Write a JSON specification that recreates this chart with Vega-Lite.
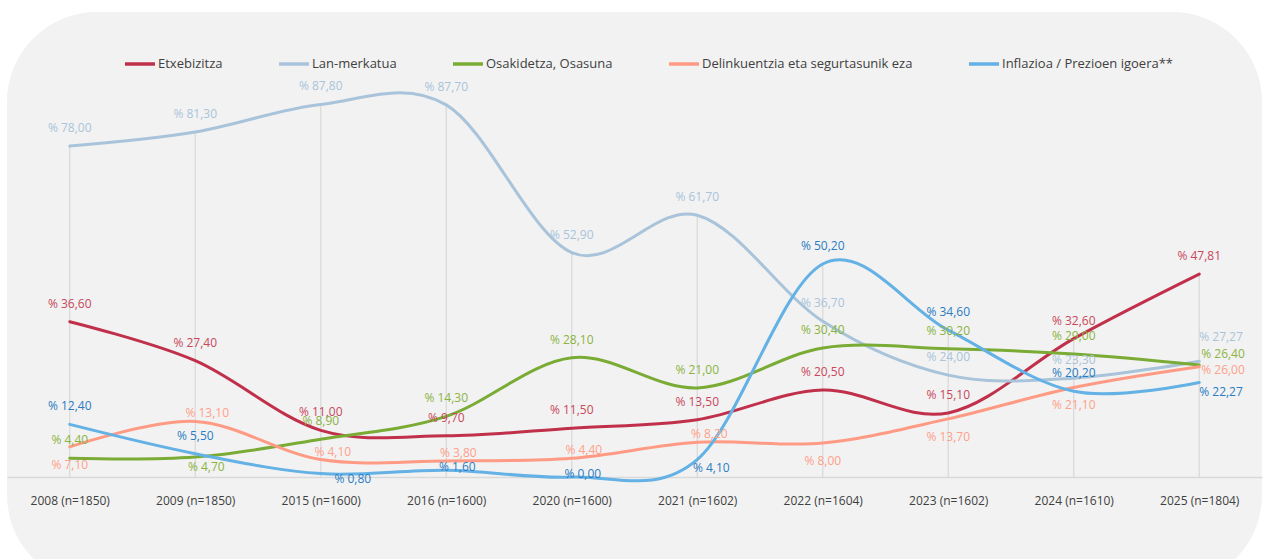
{
  "$schema": "https://vega.github.io/schema/vega-lite/v6.json",
  "width": 1255,
  "height": 573,
  "padding": {"left": 7, "top": 12, "right": 4, "bottom": 0},
  "autosize": {"type": "pad"},
  "background": "white",
  "config": {
    "view": {"fill": "#f2f2f2", "stroke": null, "cornerRadius": 90},
    "font": "Open Sans",
    "text": {"fontSize": 12, "font": "Open Sans", "baseline": "middle", "align": "center"}
  },
  "data": {
    "values": [
      {"year": "2008 (n=1850)", "serie": "Etxebizitza", "value": 36.60},
      {"year": "2009 (n=1850)", "serie": "Etxebizitza", "value": 27.40},
      {"year": "2015 (n=1600)", "serie": "Etxebizitza", "value": 11.00},
      {"year": "2016 (n=1600)", "serie": "Etxebizitza", "value": 9.70},
      {"year": "2020 (n=1600)", "serie": "Etxebizitza", "value": 11.50},
      {"year": "2021 (n=1602)", "serie": "Etxebizitza", "value": 13.50},
      {"year": "2022 (n=1604)", "serie": "Etxebizitza", "value": 20.50},
      {"year": "2023 (n=1602)", "serie": "Etxebizitza", "value": 15.10},
      {"year": "2024 (n=1610)", "serie": "Etxebizitza", "value": 32.60},
      {"year": "2025 (n=1804)", "serie": "Etxebizitza", "value": 47.81},
      {"year": "2008 (n=1850)", "serie": "Lan-merkatua", "value": 78.00},
      {"year": "2009 (n=1850)", "serie": "Lan-merkatua", "value": 81.30},
      {"year": "2015 (n=1600)", "serie": "Lan-merkatua", "value": 87.80},
      {"year": "2016 (n=1600)", "serie": "Lan-merkatua", "value": 87.70},
      {"year": "2020 (n=1600)", "serie": "Lan-merkatua", "value": 52.90},
      {"year": "2021 (n=1602)", "serie": "Lan-merkatua", "value": 61.70},
      {"year": "2022 (n=1604)", "serie": "Lan-merkatua", "value": 36.70},
      {"year": "2023 (n=1602)", "serie": "Lan-merkatua", "value": 24.00},
      {"year": "2024 (n=1610)", "serie": "Lan-merkatua", "value": 23.30},
      {"year": "2025 (n=1804)", "serie": "Lan-merkatua", "value": 27.27},
      {"year": "2008 (n=1850)", "serie": "Osakidetza, Osasuna", "value": 4.40},
      {"year": "2009 (n=1850)", "serie": "Osakidetza, Osasuna", "value": 4.70},
      {"year": "2015 (n=1600)", "serie": "Osakidetza, Osasuna", "value": 8.90},
      {"year": "2016 (n=1600)", "serie": "Osakidetza, Osasuna", "value": 14.30},
      {"year": "2020 (n=1600)", "serie": "Osakidetza, Osasuna", "value": 28.10},
      {"year": "2021 (n=1602)", "serie": "Osakidetza, Osasuna", "value": 21.00},
      {"year": "2022 (n=1604)", "serie": "Osakidetza, Osasuna", "value": 30.40},
      {"year": "2023 (n=1602)", "serie": "Osakidetza, Osasuna", "value": 30.20},
      {"year": "2024 (n=1610)", "serie": "Osakidetza, Osasuna", "value": 29.00},
      {"year": "2025 (n=1804)", "serie": "Osakidetza, Osasuna", "value": 26.40},
      {"year": "2008 (n=1850)", "serie": "Delinkuentzia eta segurtasunik eza", "value": 7.10},
      {"year": "2009 (n=1850)", "serie": "Delinkuentzia eta segurtasunik eza", "value": 13.10},
      {"year": "2015 (n=1600)", "serie": "Delinkuentzia eta segurtasunik eza", "value": 4.10},
      {"year": "2016 (n=1600)", "serie": "Delinkuentzia eta segurtasunik eza", "value": 3.80},
      {"year": "2020 (n=1600)", "serie": "Delinkuentzia eta segurtasunik eza", "value": 4.40},
      {"year": "2021 (n=1602)", "serie": "Delinkuentzia eta segurtasunik eza", "value": 8.20},
      {"year": "2022 (n=1604)", "serie": "Delinkuentzia eta segurtasunik eza", "value": 8.00},
      {"year": "2023 (n=1602)", "serie": "Delinkuentzia eta segurtasunik eza", "value": 13.70},
      {"year": "2024 (n=1610)", "serie": "Delinkuentzia eta segurtasunik eza", "value": 21.10},
      {"year": "2025 (n=1804)", "serie": "Delinkuentzia eta segurtasunik eza", "value": 26.00},
      {"year": "2008 (n=1850)", "serie": "Inflazioa / Prezioen igoera**", "value": 12.40},
      {"year": "2009 (n=1850)", "serie": "Inflazioa / Prezioen igoera**", "value": 5.50},
      {"year": "2015 (n=1600)", "serie": "Inflazioa / Prezioen igoera**", "value": 0.80},
      {"year": "2016 (n=1600)", "serie": "Inflazioa / Prezioen igoera**", "value": 1.60},
      {"year": "2020 (n=1600)", "serie": "Inflazioa / Prezioen igoera**", "value": 0.00},
      {"year": "2021 (n=1602)", "serie": "Inflazioa / Prezioen igoera**", "value": 4.10},
      {"year": "2022 (n=1604)", "serie": "Inflazioa / Prezioen igoera**", "value": 50.20},
      {"year": "2023 (n=1602)", "serie": "Inflazioa / Prezioen igoera**", "value": 34.60},
      {"year": "2024 (n=1610)", "serie": "Inflazioa / Prezioen igoera**", "value": 20.20},
      {"year": "2025 (n=1804)", "serie": "Inflazioa / Prezioen igoera**", "value": 22.27}
    ]
  },
  "transform": [
    {"calculate": "'% ' + replace(format(datum.value, '.2f'), '.', ',')", "as": "lbl"},
    {"calculate": "substring(datum.year, 0, 4)", "as": "y4"}
  ],
  "encoding": {
    "x": {
      "field": "year",
      "type": "ordinal",
      "sort": null,
      "scale": {"type": "point", "padding": 0.5},
      "axis": {
        "title": null,
        "offset": -108,
        "labelAngle": 0,
        "ticks": false,
        "grid": false,
        "domainColor": "#d9d9d9",
        "domainWidth": 1.5,
        "labelPadding": 18,
        "labelFontSize": 12,
        "labelColor": "#404040",
        "labelFont": "Open Sans"
      }
    },
    "y": {
      "field": "value",
      "type": "quantitative",
      "scale": {"domain": [-25.45, 109.58], "nice": false, "zero": false},
      "axis": null
    }
  },
  "layer": [
    {
      "transform": [
        {"aggregate": [{"op": "max", "field": "value", "as": "maxv"}], "groupby": ["year"]}
      ],
      "mark": {"type": "rule", "color": "#d9d9d9", "strokeWidth": 1.2},
      "encoding": {
        "y": {"field": "maxv", "type": "quantitative"},
        "y2": {"datum": 0}
      }
    },
    {
      "mark": {"type": "line", "interpolate": "cardinal", "tension": 0, "strokeWidth": 3, "strokeCap": "round"},
      "encoding": {
        "color": {
          "field": "serie",
          "type": "nominal",
          "sort": null,
          "scale": {
            "domain": ["Etxebizitza", "Lan-merkatua", "Osakidetza, Osasuna", "Delinkuentzia eta segurtasunik eza", "Inflazioa / Prezioen igoera**"],
            "range": ["#c0304a", "#a9c4da", "#7aab35", "#ff9b85", "#63b1e5"]
          },
          "legend": {
            "title": null,
            "orient": "none",
            "legendX": 116,
            "legendY": 35,
            "direction": "horizontal",
            "columns": 5,
            "columnPadding": 49,
            "symbolType": "stroke",
            "symbolSize": 900,
            "symbolStrokeWidth": 3.5,
            "labelFontSize": 13,
            "labelFont": "Open Sans",
            "labelColor": "#404040",
            "labelOffset": 1,
            "labelLimit": 400
          }
        }
      }
    },
    {
      "encoding": {
        "text": {"field": "lbl"},
        "color": {
          "field": "serie",
          "type": "nominal",
          "sort": null,
          "scale": {
            "domain": ["Etxebizitza", "Lan-merkatua", "Osakidetza, Osasuna", "Delinkuentzia eta segurtasunik eza", "Inflazioa / Prezioen igoera**"],
            "range": ["#c9475b", "#a9c4da", "#8ab43f", "#ffa08a", "#2a7cc4"]
          },
          "legend": null
        }
      },
      "layer": [
        {
          "transform": [{"filter": "!(datum.serie == 'Delinkuentzia eta segurtasunik eza') && !(datum.serie == 'Inflazioa / Prezioen igoera**' && indexof(['2015','2016','2020','2021','2025'], datum.y4) >= 0) && !(datum.serie == 'Osakidetza, Osasuna' && indexof(['2009','2025'], datum.y4) >= 0) && !(datum.serie == 'Lan-merkatua' && datum.y4 == '2025')"}],
          "mark": {"type": "text", "dy": -18}
        },
        {
          "transform": [{"filter": "datum.serie == 'Delinkuentzia eta segurtasunik eza' && indexof(['2008','2022','2023','2024'], datum.y4) >= 0"}],
          "mark": {"type": "text", "dy": 18}
        },
        {
          "transform": [{"filter": "datum.serie == 'Delinkuentzia eta segurtasunik eza' && indexof(['2009','2015','2016','2020','2021'], datum.y4) >= 0"}],
          "mark": {"type": "text", "dx": 12, "dy": -8}
        },
        {
          "transform": [{"filter": "datum.serie == 'Inflazioa / Prezioen igoera**' && indexof(['2016','2020'], datum.y4) >= 0"}],
          "mark": {"type": "text", "dx": 11, "dy": -3}
        },
        {
          "transform": [{"filter": "datum.serie == 'Inflazioa / Prezioen igoera**' && datum.y4 == '2021'"}],
          "mark": {"type": "text", "dx": 14, "dy": 8}
        },
        {
          "transform": [{"filter": "datum.serie == 'Inflazioa / Prezioen igoera**' && datum.y4 == '2015'"}],
          "mark": {"type": "text", "dx": 32, "dy": 5}
        },
        {
          "transform": [{"filter": "datum.serie == 'Osakidetza, Osasuna' && datum.y4 == '2009'"}],
          "mark": {"type": "text", "dx": 11, "dy": 10}
        },
        {
          "transform": [{"filter": "datum.serie == 'Lan-merkatua' && datum.y4 == '2025'"}],
          "mark": {"type": "text", "align": "left", "dx": 0, "dy": -24}
        },
        {
          "transform": [{"filter": "datum.serie == 'Osakidetza, Osasuna' && datum.y4 == '2025'"}],
          "mark": {"type": "text", "align": "left", "dx": 2, "dy": -11}
        },
        {
          "transform": [{"filter": "datum.serie == 'Delinkuentzia eta segurtasunik eza' && datum.y4 == '2025'"}],
          "mark": {"type": "text", "align": "left", "dx": 2, "dy": 3}
        },
        {
          "transform": [{"filter": "datum.serie == 'Inflazioa / Prezioen igoera**' && datum.y4 == '2025'"}],
          "mark": {"type": "text", "align": "left", "dx": 0, "dy": 9}
        }
      ]
    }
  ],
  "resolve": {"scale": {"color": "independent"}}
}
